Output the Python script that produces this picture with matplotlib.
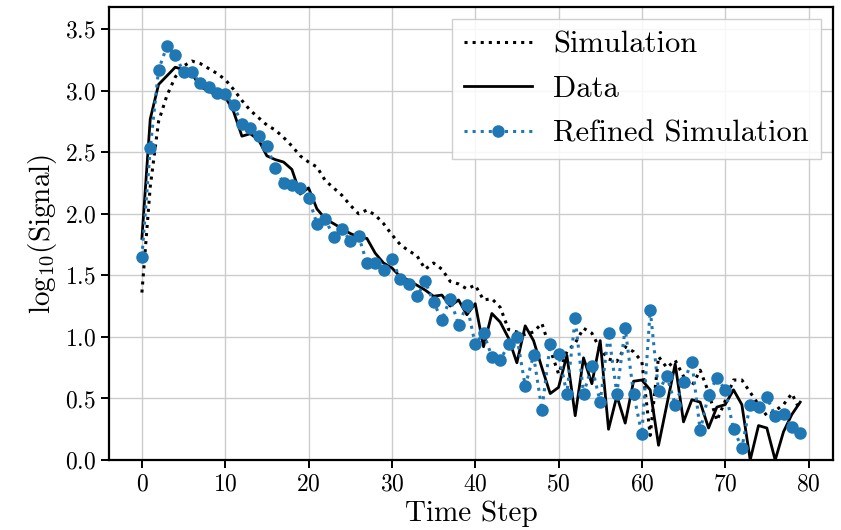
import numpy as np
import matplotlib
matplotlib.use('Agg')
import matplotlib.pyplot as plt

plt.rcParams['font.family'] = 'serif'
plt.rcParams['font.serif'] = ['cmr10']
plt.rcParams['mathtext.fontset'] = 'cm'
plt.rcParams['axes.formatter.use_mathtext'] = True

# values, one per time step 0..79
time_step = np.arange(80)

simulation = [
    1.36, 2.22, 2.75, 2.96, 3.11, 3.20, 3.24, 3.22, 3.18, 3.14,
    3.09, 3.01, 2.92, 2.84, 2.78, 2.72, 2.68, 2.62, 2.55, 2.47,
    2.42, 2.38, 2.27, 2.21, 2.15, 2.07, 2.00, 2.03, 1.99, 1.92,
    1.83, 1.75, 1.70, 1.66, 1.55, 1.60, 1.55, 1.45, 1.43, 1.39,
    1.42, 1.30, 1.31, 1.24, 1.06, 1.04, 1.02, 1.04, 1.11, 0.90,
    0.70, 0.88, 0.95, 1.07, 1.03, 0.90, 0.82, 0.80, 0.92, 0.88,
    0.80, 0.20, 0.84, 0.75, 0.81, 0.68, 0.60, 0.73, 0.55, 0.32,
    0.48, 0.65, 0.65, 0.55, 0.45, 0.36, 0.40, 0.45, 0.54, 0.40,
]

data = [
    1.80, 2.77, 3.05, 3.12, 3.19, 3.17, 3.14, 3.03, 3.00, 2.96,
    2.95, 2.83, 2.63, 2.65, 2.60, 2.47, 2.44, 2.42, 2.36, 2.16,
    2.21, 2.04, 1.96, 1.92, 1.88, 1.84, 1.81, 1.80, 1.68, 1.60,
    1.56, 1.49, 1.46, 1.42, 1.38, 1.33, 1.34, 1.25, 1.30, 1.18,
    1.27, 0.92, 1.19, 1.12, 0.99, 0.79, 1.09, 0.97, 0.75, 0.54,
    0.59, 0.85, 0.36, 0.83, 0.62, 0.97, 0.25, 0.52, 0.30, 0.64,
    0.65, 0.57, 0.12, 0.45, 0.78, 0.31, 0.49, 0.47, 0.26, 0.43,
    0.45, 0.57, 0.45, 0.00, 0.28, 0.26, 0.00, 0.23, 0.37, 0.47,
]

refined = [
    1.65, 2.53, 3.17, 3.36, 3.29, 3.15, 3.15, 3.06, 3.03, 2.98,
    2.97, 2.88, 2.73, 2.70, 2.63, 2.55, 2.37, 2.25, 2.23, 2.21,
    2.13, 1.92, 1.96, 1.81, 1.88, 1.78, 1.82, 1.60, 1.60, 1.54,
    1.63, 1.47, 1.43, 1.33, 1.45, 1.28, 1.14, 1.31, 1.10, 1.26,
    0.94, 1.03, 0.84, 0.81, 0.94, 1.00, 0.60, 0.85, 0.41, 0.94,
    0.86, 0.54, 1.15, 0.54, 0.76, 0.47, 1.03, 0.54, 1.07, 0.54,
    0.21, 1.22, 0.56, 0.68, 0.45, 0.63, 0.80, 0.24, 0.53, 0.67,
    0.57, 0.25, 0.10, 0.45, 0.43, 0.51, 0.36, 0.37, 0.27, 0.22,
]

fig = plt.figure(figsize=(8.41, 5.30), dpi=100)
ax = fig.add_axes([0.1296, 0.132, 0.861, 0.855])

ax.plot(time_step, simulation, color='black', linestyle=':', linewidth=2.2, label='Simulation')
ax.plot(time_step, data, color='black', linestyle='-', linewidth=2.0, label='Data')
ax.plot(time_step, refined, color='#1f77b4', linestyle=':', linewidth=2.2,
        marker='o', markersize=8, label='Refined Simulation')

ax.set_xlim(-3.95, 82.95)
ax.set_ylim(0, 3.68)
ax.set_xticks(np.arange(0, 81, 10))
ax.set_yticks(np.arange(0, 3.6, 0.5))
ax.grid(True, color='#cccccc', linewidth=1.0)
ax.set_axisbelow(True)

for s in ax.spines.values():
    s.set_linewidth(1.6)
ax.tick_params(direction='out', length=6, width=1.4, labelsize=17)

ax.set_xlabel('Time Step', fontsize=21, labelpad=4)
ax.set_ylabel(r'$\mathrm{log}_{10}(\mathrm{Signal})$', fontsize=21)

leg = ax.legend(loc='upper right', fontsize=22, frameon=True, fancybox=False,
                edgecolor='#c8c8c8', framealpha=0.85, handlelength=2.2,
                handletextpad=0.7, borderpad=0.4, labelspacing=0.55,
                borderaxespad=0.4)

fig.savefig('out.png', dpi=100)
